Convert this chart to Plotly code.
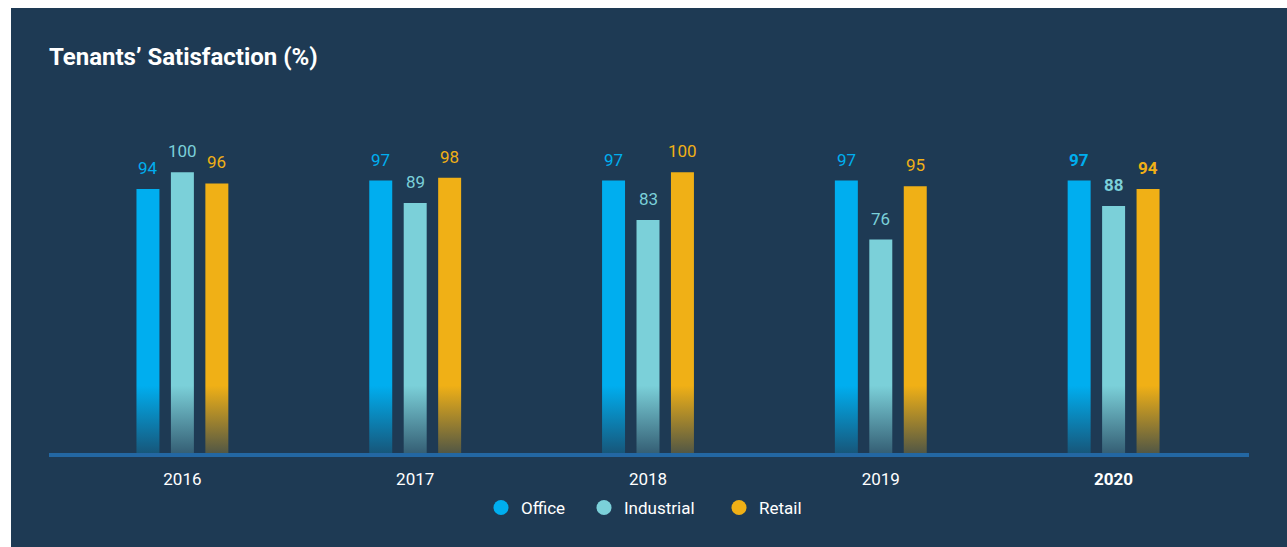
import plotly.graph_objects as go

# Survey results by year and property segment
years = ["2016", "2017", "2018", "2019", "2020"]
office = [94, 97, 97, 97, 97]
industrial = [100, 89, 83, 76, 88]
retail = [96, 98, 100, 95, 94]

series_names = ["Office", "Industrial", "Retail"]
series_values = [office, industrial, retail]
series_colors = ["#00aeef", "#7bd0d9", "#f0b016"]

BG = "#1e3a54"
FONT = "Roboto"
W, H = 1287, 547
ML, MR, MT, MB = 66, 57, 102, 94
PW = W - ML - MR
PH = H - MT - MB
Y_MAX = 125
FADE_TOP = 24  # value at which the bars start fading into the background

def px_to_paper_x(px):
    return (px - ML) / PW

def px_to_paper_y(py):
    return (H - MB - py) / PH

x_idx = list(range(len(years)))
fig = go.Figure()

for name, vals, col in zip(series_names, series_values, series_colors):
    fig.add_trace(go.Bar(
        name=name, x=x_idx, y=vals, marker=dict(color=col, line=dict(width=0)),
        showlegend=False, hoverinfo="x+y",
    ))

# soft fade at the foot of every bar
fig.add_trace(go.Scatter(
    x=[-0.5, len(years) - 0.5, len(years) - 0.5, -0.5, -0.5],
    y=[0, 0, FADE_TOP, FADE_TOP, 0],
    mode="none", fill="toself",
    fillgradient=dict(
        type="vertical",
        colorscale=[[0, "rgba(30,58,84,0.75)"], [1, "rgba(30,58,84,0)"]],
        start=0, stop=FADE_TOP,
    ),
    showlegend=False, hoverinfo="skip",
))

# legend entries with round swatches
legend_widths = [58, 90, None]
for name, col, lw in zip(series_names, series_colors, legend_widths):
    fig.add_trace(go.Scatter(
        x=[None], y=[None], mode="markers", name=name,
        marker=dict(symbol="circle", size=15, color=col),
        legendwidth=lw,
    ))

# value labels above bars
slot_px = 34.5
annotations = []
for s, (vals, col) in enumerate(zip(series_values, series_colors)):
    for i, v in enumerate(vals):
        txt = f"<b>{v}</b>" if years[i] == "2020" else str(v)
        annotations.append(dict(
            x=i, y=v, xref="x", yref="y", text=txt, showarrow=False,
            xshift=(s - 1) * slot_px, yshift=9, yanchor="bottom", xanchor="center",
            font=dict(family=FONT, size=17, color=col),
        ))

shapes = [
    # dark panel
    dict(type="rect", xref="paper", yref="paper", layer="below",
         x0=px_to_paper_x(11), x1=px_to_paper_x(W + 2),
         y0=px_to_paper_y(H + 2), y1=px_to_paper_y(8),
         fillcolor=BG, line=dict(width=0)),
    # baseline
    dict(type="line", xref="paper", yref="paper", layer="above",
         x0=px_to_paper_x(49), x1=px_to_paper_x(1249),
         y0=px_to_paper_y(455), y1=px_to_paper_y(455),
         line=dict(color="#2367a3", width=4)),
]

ticktext = [f"<b>{y}</b>" if y == "2020" else y for y in years]

fig.update_layout(
    width=W, height=H,
    margin=dict(l=ML, r=MR, t=MT, b=MB, pad=0),
    paper_bgcolor="white",
    plot_bgcolor="rgba(0,0,0,0)",
    barmode="group", bargap=0.556, bargroupgap=0.333,
    font=dict(family=FONT, color="white"),
    title=dict(
        text="<b>Tenants’ Satisfaction (%)</b>",
        xref="container", yref="container",
        x=49 / W, y=1 - 57 / H, xanchor="left", yanchor="middle",
        font=dict(family=FONT, size=24, color="white"),
    ),
    xaxis=dict(
        tickmode="array", tickvals=x_idx, ticktext=ticktext,
        range=[-0.5, len(years) - 0.5], showgrid=False, zeroline=False,
        showline=False, ticks="", ticklabelstandoff=14,
        tickfont=dict(family=FONT, size=17, color="white"),
        fixedrange=True,
    ),
    yaxis=dict(
        range=[0, Y_MAX], showgrid=False, zeroline=False, showline=False,
        showticklabels=False, ticks="", fixedrange=True,
    ),
    legend=dict(
        orientation="h", x=px_to_paper_x(481), xanchor="left",
        y=px_to_paper_y(508), yanchor="middle",
        font=dict(family=FONT, size=17, color="white"),
        bgcolor="rgba(0,0,0,0)", itemclick=False, itemdoubleclick=False,
    ),
    annotations=annotations,
    shapes=shapes,
)

fig.write_html("out.html")
